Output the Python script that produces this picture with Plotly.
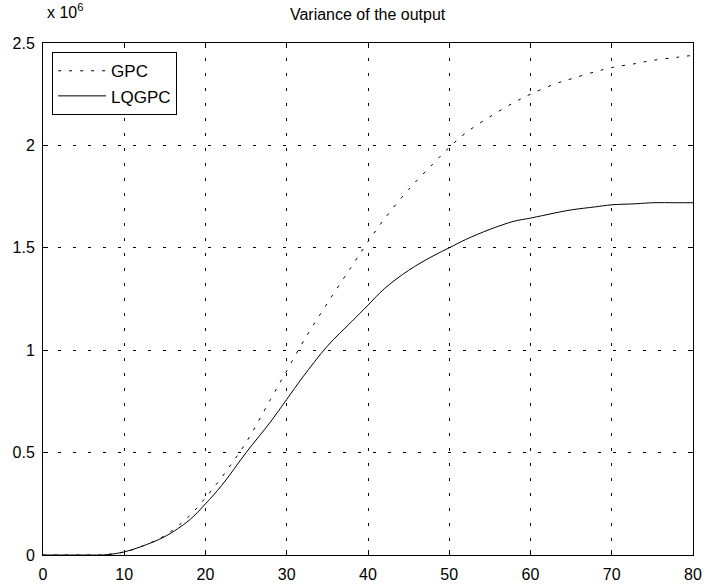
import plotly.graph_objects as go

# Time steps (x axis)
steps = [0, 5, 7, 8, 10, 12, 15, 18, 20, 22, 25, 28, 30, 32, 35, 38, 40, 42, 45, 48,
         50, 52, 55, 58, 60, 63, 65, 68, 70, 73, 75, 78, 80]
# Variance of the output, in units of 10^6
gpc = [0, 0, 0, 0.003, 0.015, 0.04, 0.095, 0.19, 0.28, 0.38, 0.55, 0.76, 0.90, 1.04,
       1.23, 1.41, 1.53, 1.64, 1.785, 1.91, 1.99, 2.06, 2.14, 2.21, 2.25, 2.30, 2.325,
       2.36, 2.38, 2.40, 2.415, 2.43, 2.44]
lqgpc = [0, 0, 0, 0.002, 0.015, 0.04, 0.09, 0.17, 0.25, 0.34, 0.50, 0.65, 0.76, 0.87,
         1.02, 1.14, 1.22, 1.30, 1.39, 1.46, 1.50, 1.54, 1.59, 1.63, 1.645, 1.67, 1.685,
         1.70, 1.71, 1.715, 1.72, 1.72, 1.72]

x_ticks = [0, 10, 20, 30, 40, 50, 60, 70, 80]
y_ticks = [0, 0.5, 1, 1.5, 2, 2.5]
y_tick_labels = ["0", "0.5", "1", "1.5", "2", "2.5"]

FONT = "Liberation Sans, Arial, Helvetica, sans-serif"

fig = go.Figure()
fig.add_trace(go.Scatter(x=steps, y=gpc, mode="lines", name="GPC",
                         line=dict(color="black", width=1, dash="3px,8px"),
                         line_shape="spline"))
fig.add_trace(go.Scatter(x=steps, y=lqgpc, mode="lines", name="LQGPC",
                         line=dict(color="black", width=1),
                         line_shape="spline"))

axis_common = dict(
    showline=True, linecolor="black", linewidth=1, mirror="ticks",
    ticks="inside", ticklen=5, tickcolor="black", tickwidth=1,
    showgrid=True, gridcolor="black", gridwidth=1, griddash="3px,12px",
    zeroline=False, automargin=False,
    tickfont=dict(family=FONT, size=16, color="black"),
)

fig.update_xaxes(range=[0, 80], tickvals=x_ticks, ticklabelstandoff=5, **axis_common)
fig.update_yaxes(range=[0, 2.5], tickvals=y_ticks, ticktext=y_tick_labels,
                 ticklabelstandoff=4, **axis_common)

fig.update_layout(
    width=707, height=585,
    margin=dict(l=43, r=14, t=43, b=30, autoexpand=False),
    paper_bgcolor="white", plot_bgcolor="white",
    font=dict(family=FONT, color="black"),
    title=dict(text="Variance of the output", x=0.52, xanchor="center",
               y=0.975, yanchor="middle", font=dict(family=FONT, size=16),
               automargin=False),
    showlegend=True,
    legend=dict(x=0.014, y=0.982, xanchor="left", yanchor="top",
                bgcolor="white", bordercolor="black", borderwidth=1,
                font=dict(family=FONT, size=17), tracegroupgap=0,
                itemwidth=48),
    annotations=[dict(text="x 10<sup>6</sup>", xref="paper", yref="paper",
                      x=0.003, y=1.039, xanchor="left", yanchor="bottom",
                      showarrow=False, font=dict(family=FONT, size=16))],
)

fig.write_html("out.html", config={"displayModeBar": False},
               post_script="document.body.style.margin='0';document.body.style.padding='0';")
